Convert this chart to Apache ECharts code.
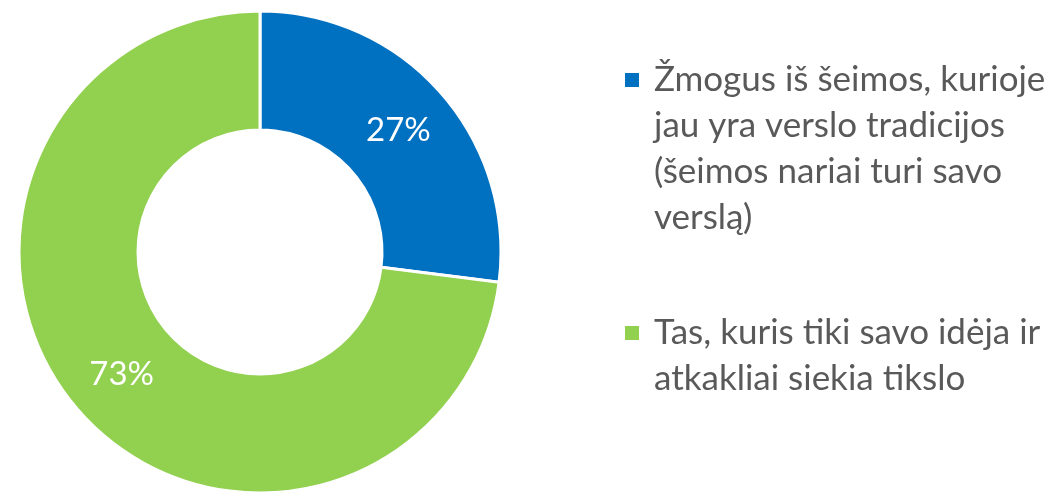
<!DOCTYPE html>
<html><head><meta charset="utf-8">
<script src="https://cdn.jsdelivr.net/npm/echarts@6/dist/echarts.min.js"></script>
<style>html,body{margin:0;padding:0;background:#fff}#c{width:1045px;height:492px}</style>
</head><body><div id="c"></div>
<script>
const categories = ['Žmogus iš šeimos, kurioje jau yra verslo tradicijos (šeimos nariai turi savo verslą)', 'Tas, kuris tiki savo idėja ir atkakliai siekia tikslo'];
const legendLines = [['Žmogus iš šeimos, kurioje', 'jau yra verslo tradicijos', '(šeimos nariai turi savo', 'verslą)'], ['Tas, kuris tiki savo idėja ir', 'atkakliai siekia tikslo']];
const values = [27, 73];
const colors = ['#0070C0', '#92D050'];

const FONT = 'Lato';
const chart = echarts.init(document.getElementById('c'), null, {renderer: 'canvas'});
const LH = 46;
function legendFor(i, top) {
  const lines = legendLines[i];
  const pad = lines.length - 1;
  return {
    data: [categories[i]], orient: 'vertical', left: 625, top: top, padding: 0,
    itemWidth: 14, itemHeight: 14, icon: 'rect', selectedMode: false,
    itemStyle: {borderWidth: 0, borderColor: 'transparent'},
    formatter: () => '\n'.repeat(pad) + lines.join('\n'),
    textStyle: {fontFamily: FONT, fontSize: 35, color: '#595959', lineHeight: LH, padding: [0, 0, 0, 10]}
  };
}
chart.setOption({
  animation: false,
  legend: [legendFor(0, 80 - 23 - LH * 3), legendFor(1, 333 - 23 - LH)],
  series: [{
    type: 'pie', center: [260, 252], radius: [122, 241], startAngle: 90, clockwise: true,
    itemStyle: {borderColor: '#fff', borderWidth: 3},
    label: {position: 'inside', formatter: '{d}%', color: '#fff', fontFamily: FONT, fontSize: 33},
    labelLine: {show: false},
    data: values.map((v, i) => ({name: categories[i], value: v, itemStyle: {color: colors[i]}}))
  }]
});
</script></body></html>
